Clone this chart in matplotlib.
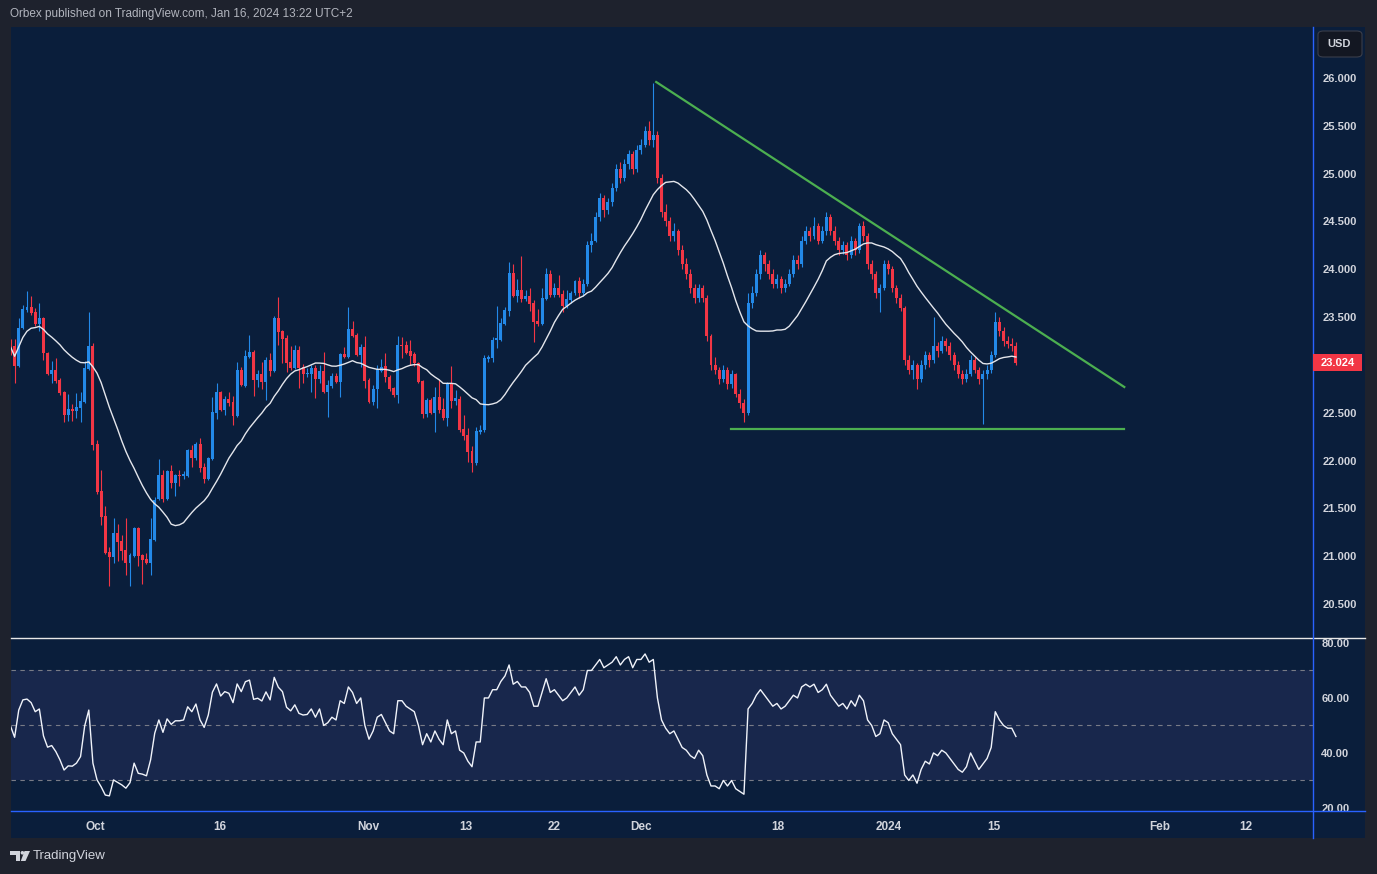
import numpy as np
import pandas as pd
import matplotlib
matplotlib.use("Agg")
import matplotlib.pyplot as plt
from matplotlib.patches import Rectangle, FancyBboxPatch, Polygon, Circle
from matplotlib.lines import Line2D
from matplotlib.transforms import blended_transform_factory, Affine2D

plt.rcParams['font.family'] = ['Liberation Sans', 'DejaVu Sans']

# 8h bars, silver (XAG/USD), late Sep 2023 -> Jan 16 2024
opens = [
    23.24, 23.20, 22.99, 23.39, 23.57, 23.61, 23.55, 23.43, 23.49, 23.12,
    22.90, 22.95, 22.84, 22.72, 22.48, 22.54, 22.52, 22.55, 22.61, 22.96,
    23.20, 22.17, 21.68, 21.42, 21.04, 20.99, 21.24, 21.16, 21.06, 20.93,
    21.00, 21.29, 21.01, 20.97, 20.93, 21.17, 21.60, 21.85, 21.60, 21.89,
    21.77, 21.85, 21.84, 21.84, 22.11, 22.03, 22.17, 21.93, 21.81, 22.02,
    22.50, 22.72, 22.53, 22.64, 22.61, 22.47, 22.95, 22.78, 23.08, 23.14,
    22.84, 22.91, 22.82, 23.05, 22.94, 23.49, 23.35, 23.28, 23.03, 22.97,
    23.16, 22.98, 22.90, 22.90, 22.97, 22.85, 22.94, 22.72, 22.78, 22.88,
    22.82, 23.11, 23.08, 23.38, 23.31, 23.10, 23.19, 22.84, 22.61, 22.75,
    22.94, 22.99, 22.87, 22.76, 22.69, 23.21, 23.21, 23.15, 23.11, 23.02,
    22.83, 22.49, 22.63, 22.50, 22.66, 22.54, 22.44, 22.81, 22.62, 22.64,
    22.33, 22.27, 22.10, 21.97, 22.30, 22.32, 23.06, 23.07, 23.26, 23.26,
    23.43, 23.56, 23.96, 23.72, 23.78, 23.69, 23.72, 23.65, 23.46, 23.43,
    23.69, 23.95, 23.73, 23.80, 23.74, 23.62, 23.68, 23.75,
    23.88, 23.75, 23.85, 24.25, 24.30, 24.55, 24.75, 24.62, 24.70, 24.85,
    25.05, 24.95, 25.10, 25.20, 25.05, 25.25, 25.30, 25.45, 25.35, 25.40,
    24.95, 24.60, 24.50, 24.35, 24.40, 24.20, 24.05, 23.95, 23.80, 23.70,
    23.80, 23.70, 23.30, 23.00, 22.95, 22.85, 22.95, 22.80, 22.90, 22.70,
    22.60, 22.50, 23.65, 23.75, 23.95, 24.15, 24.05, 23.95, 23.85, 23.90,
    23.80, 23.85, 23.95, 24.10, 24.05, 24.30, 24.40, 24.35, 24.45, 24.30,
    24.40, 24.55, 24.40, 24.30, 24.20, 24.25, 24.15, 24.30, 24.20, 24.45,
    24.35, 24.05, 23.95, 23.75, 23.80, 24.05, 24.00, 23.80, 23.70, 23.60,
    23.05, 22.95, 23.00, 22.85, 23.00, 23.10, 23.05, 23.20, 23.15, 23.25,
    23.20, 23.10, 23.00, 22.90, 22.85, 22.90, 23.05, 22.95, 22.85, 22.90,
    22.95, 23.10, 23.45, 23.35, 23.25, 23.22, 23.20,
]
highs = [
    23.27, 23.27, 23.49, 23.63, 23.77, 23.72, 23.59, 23.65, 23.50, 23.13,
    23.04, 23.07, 22.86, 22.73, 22.70, 22.59, 22.71, 22.72, 23.04, 23.55,
    23.23, 22.21, 21.90, 21.52, 21.10, 21.40, 21.34, 21.22, 21.40, 21.03,
    21.30, 21.30, 21.02, 21.03, 21.40, 21.62, 22.02, 21.90, 21.90, 21.95,
    21.86, 21.90, 21.89, 22.12, 22.16, 22.19, 22.24, 21.97, 22.04, 22.66,
    22.81, 22.73, 22.68, 22.72, 22.68, 23.03, 22.98, 23.16, 23.31, 23.16,
    22.95, 23.03, 23.08, 23.12, 23.51, 23.71, 23.37, 23.31, 23.20, 23.21,
    23.20, 23.01, 22.97, 23.00, 23.00, 23.00, 23.14, 22.84, 22.92, 22.92,
    23.12, 23.19, 23.61, 23.46, 23.33, 23.22, 23.30, 22.86, 22.79, 23.00,
    23.06, 23.12, 22.89, 22.77, 23.30, 23.29, 23.25, 23.26, 23.13, 23.03,
    22.84, 22.65, 22.65, 22.77, 22.84, 22.65, 22.82, 22.99, 22.74, 22.68,
    22.48, 22.34, 22.15, 22.35, 22.37, 23.10, 23.10, 23.29, 23.62, 23.49,
    23.61, 24.08, 24.06, 23.90, 24.14, 23.78, 23.80, 23.68, 23.58, 23.80,
    24.01, 23.99, 23.86, 23.94, 23.78, 23.78, 23.77, 23.89,
    23.92, 23.90, 24.30, 24.38, 24.60, 24.80, 24.78, 24.75, 24.90, 25.10,
    25.12, 25.15, 25.25, 25.24, 25.30, 25.36, 25.50, 25.55, 25.95, 25.45,
    25.00, 24.68, 24.55, 24.48, 24.42, 24.25, 24.12, 24.00, 23.85, 23.85,
    23.84, 23.73, 23.32, 23.08, 22.98, 23.00, 22.98, 22.95, 22.92, 22.75,
    22.64, 23.75, 23.82, 24.00, 24.20, 24.18, 24.10, 24.00, 23.95, 23.93,
    23.90, 24.00, 24.15, 24.15, 24.35, 24.45, 24.44, 24.55, 24.48, 24.45,
    24.60, 24.58, 24.45, 24.34, 24.30, 24.28, 24.35, 24.33, 24.48, 24.50,
    24.38, 24.10, 23.98, 23.85, 24.10, 24.10, 24.03, 23.84, 23.74, 23.62,
    23.10, 23.05, 23.02, 23.05, 23.15, 23.14, 23.50, 23.24, 23.30, 23.28,
    23.24, 23.14, 23.04, 22.95, 22.96, 23.10, 23.08, 22.98, 22.95, 23.00,
    23.15, 23.55, 23.50, 23.40, 23.30, 23.28, 23.24,
]
lows = [
    23.10, 22.81, 22.98, 23.38, 23.55, 23.52, 23.41, 23.35, 23.05, 22.89,
    22.81, 22.81, 22.69, 22.40, 22.41, 22.41, 22.44, 22.40, 22.60, 22.95,
    22.11, 21.65, 21.33, 21.02, 20.69, 20.93, 20.95, 20.96, 20.80, 20.69,
    20.99, 20.90, 20.71, 20.92, 20.80, 21.16, 21.59, 21.57, 21.59, 21.71,
    21.63, 21.73, 21.81, 21.83, 21.93, 22.01, 21.88, 21.77, 21.80, 22.01,
    22.43, 22.52, 22.48, 22.57, 22.37, 22.46, 22.78, 22.77, 23.07, 22.68,
    22.77, 22.75, 22.63, 22.88, 22.93, 23.21, 23.02, 22.93, 22.95, 22.96,
    22.76, 22.81, 22.87, 22.72, 22.65, 22.81, 22.71, 22.46, 22.76, 22.81,
    22.66, 23.07, 23.07, 23.29, 23.09, 22.98, 22.76, 22.60, 22.58, 22.55,
    22.93, 22.82, 22.73, 22.66, 22.60, 23.07, 23.11, 23.00, 22.99, 22.81,
    22.44, 22.46, 22.49, 22.30, 22.50, 22.42, 22.36, 22.55, 22.58, 22.30,
    22.21, 21.98, 21.88, 21.95, 22.28, 22.30, 23.03, 23.03, 23.18, 23.25,
    23.42, 23.51, 23.71, 23.66, 23.66, 23.67, 23.56, 23.24, 23.41, 23.42,
    23.68, 23.71, 23.71, 23.71, 23.55, 23.59, 23.65, 23.73,
    23.70, 23.72, 23.82, 24.18, 24.28, 24.50, 24.55, 24.58, 24.66, 24.82,
    24.90, 24.92, 25.05, 25.00, 25.02, 25.20, 25.28, 25.30, 25.28, 24.90,
    24.55, 24.45, 24.30, 24.30, 24.15, 24.00, 23.90, 23.75, 23.65, 23.66,
    23.66, 23.25, 22.95, 22.90, 22.80, 22.82, 22.75, 22.76, 22.66, 22.55,
    22.40, 22.48, 23.60, 23.72, 23.90, 23.98, 23.90, 23.80, 23.80, 23.75,
    23.76, 23.82, 23.92, 24.00, 24.02, 24.26, 24.30, 24.32, 24.26, 24.27,
    24.36, 24.36, 24.25, 24.15, 24.16, 24.10, 24.12, 24.15, 24.17, 24.30,
    24.00, 23.90, 23.70, 23.55, 23.78, 23.95, 23.76, 23.65, 23.56, 23.00,
    22.90, 22.85, 22.75, 22.82, 22.96, 22.98, 23.02, 23.08, 23.12, 23.15,
    23.05, 22.95, 22.86, 22.80, 22.82, 22.88, 22.92, 22.80, 22.38, 22.85,
    22.92, 23.08, 23.30, 23.20, 23.18, 23.15, 23.00,
]
closes = [
    23.19, 22.99, 23.39, 23.58, 23.61, 23.54, 23.43, 23.49, 23.12, 22.90,
    22.95, 22.83, 22.71, 22.48, 22.54, 22.52, 22.56, 22.62, 22.97, 23.20,
    22.16, 21.67, 21.41, 21.03, 20.99, 21.24, 21.15, 21.05, 20.93, 21.01,
    21.29, 21.00, 20.96, 20.93, 21.18, 21.59, 21.85, 21.60, 21.89, 21.77,
    21.85, 21.84, 21.86, 22.11, 22.03, 22.17, 21.92, 21.81, 22.03, 22.51,
    22.72, 22.53, 22.64, 22.60, 22.47, 22.95, 22.79, 23.09, 23.14, 22.84,
    22.91, 22.82, 23.05, 22.94, 23.49, 23.34, 23.27, 23.02, 22.97, 23.16,
    22.97, 22.90, 22.92, 22.97, 22.85, 22.94, 22.72, 22.79, 22.88, 22.82,
    23.11, 23.08, 23.38, 23.30, 23.10, 23.19, 22.83, 22.61, 22.75, 22.96,
    22.98, 22.87, 22.75, 22.69, 23.21, 23.20, 23.12, 23.09, 23.02, 22.82,
    22.49, 22.63, 22.50, 22.66, 22.53, 22.44, 22.81, 22.62, 22.65, 22.32,
    22.26, 22.09, 21.97, 22.31, 22.32, 23.07, 23.08, 23.26, 23.28, 23.44,
    23.57, 23.96, 23.72, 23.78, 23.69, 23.72, 23.64, 23.45, 23.43, 23.70,
    23.95, 23.73, 23.80, 23.73, 23.62, 23.69, 23.75, 23.88,
    23.75, 23.85, 24.25, 24.30, 24.55, 24.75, 24.62, 24.70, 24.85, 25.05,
    24.95, 25.10, 25.20, 25.05, 25.25, 25.30, 25.45, 25.35, 25.40, 24.95,
    24.60, 24.50, 24.35, 24.40, 24.20, 24.05, 23.95, 23.80, 23.70, 23.80,
    23.70, 23.30, 23.00, 22.95, 22.85, 22.95, 22.80, 22.90, 22.70, 22.60,
    22.50, 23.65, 23.75, 23.95, 24.15, 24.05, 23.95, 23.85, 23.90, 23.80,
    23.85, 23.95, 24.10, 24.05, 24.30, 24.40, 24.35, 24.45, 24.30, 24.40,
    24.55, 24.40, 24.30, 24.20, 24.25, 24.15, 24.30, 24.20, 24.45, 24.35,
    24.05, 23.95, 23.75, 23.80, 24.05, 24.00, 23.80, 23.70, 23.60, 23.05,
    22.95, 23.00, 22.85, 23.00, 23.10, 23.05, 23.20, 23.15, 23.25, 23.20,
    23.10, 23.00, 22.90, 22.85, 22.90, 23.05, 22.95, 22.85, 22.90, 22.95,
    23.10, 23.45, 23.35, 23.25, 23.22, 23.20, 23.024,
]
rsi = [
    49.8, 45.7, 55.6, 59.3, 59.6, 58.3, 55.0, 56.0, 46.2, 42.1,
    42.7, 40.5, 37.5, 33.8, 35.3, 35.2, 36.3, 38.7, 49.8, 55.6,
    36.3, 30.2, 27.7, 24.7, 24.4, 30.2, 29.3, 28.4, 27.2, 29.2,
    36.3, 32.6, 32.3, 31.7, 37.5, 47.2, 52.0, 47.5, 52.4, 50.4,
    51.7, 51.7, 52.0, 56.8, 55.0, 57.8, 52.0, 49.3, 53.8, 62.1,
    65.1, 60.7, 62.3, 61.7, 58.3, 65.1, 62.3, 65.9, 66.5, 59.5,
    59.9, 58.9, 62.2, 59.3, 67.5, 63.9, 62.3, 56.6, 55.3, 57.5,
    54.4, 53.8, 54, 56, 53, 56, 50, 51, 53, 52,
    59, 58, 64, 62, 58, 60, 50, 45, 48, 53,
    54, 51, 48, 47, 59, 59, 57, 56, 55, 50,
    43, 47, 44, 48, 45, 43, 52, 47, 48, 41,
    40, 37, 35, 44, 44, 60, 60, 63, 63, 66,
    68, 72, 65, 66, 64, 64, 62, 57, 57, 62,
    67, 62, 63, 61, 59, 60, 62, 64, 61, 63,
    70, 70, 72, 74, 71, 72, 73, 75, 72, 74,
    75, 71, 74, 74, 76, 73, 74, 60, 52, 49,
    47, 48, 45, 42, 41, 39, 38, 41, 39, 32,
    28, 28, 27, 30, 28, 30, 27, 26, 25, 56,
    58, 61, 63, 61, 59, 57, 58, 56, 57, 59,
    61, 60, 64, 65, 64, 65, 62, 63, 65, 61,
    59, 57, 58, 56, 59, 57, 61, 59, 52, 50,
    46, 47, 52, 51, 47, 45, 43, 32, 30, 32,
    29, 34, 37, 36, 40, 39, 41, 40, 38, 36,
    34, 33, 35, 40, 37, 34, 36, 38, 42, 55,
    52, 50, 49, 49, 46,
]

# time axis labels, placed at bar index
date_ticks = [20.5, 50.8, 86.8, 110.6, 131.9, 153.0, 186.3, 213.2, 238.7, 279.0, 299.9]
date_labels = ['Oct', '16', 'Nov', '13', '22', 'Dec', '18', '2024', '15', 'Feb', '12']
# 23.000 sits under the last-price tag, so it is not labelled
price_ticks = [20.5, 21.0, 21.5, 22.0, 22.5, 23.5, 24.0, 24.5, 25.0, 25.5, 26.0]
rsi_ticks = [20, 40, 60, 80]
rsi_levels = [30, 50, 70]

# drawn trendlines (bar index, price)
res_x, res_y = [156.7, 270.3], [25.958, 22.769]
sup_x, sup_y = [174.9, 270.3], [22.33, 22.33]
ma_len = 20

W, H = 1377, 874
BG = '#0a1e3b'
FRAME = '#1e222d'
UP = '#2389e8'
DN = '#f23645'
TXT = '#d1d4dc'
GREEN = '#4caf50'
BLUE = '#2962ff'


def fx(px):
    return px / W


def fy(py):
    return 1 - py / H


fig = plt.figure(figsize=(W / 100, H / 100), dpi=100)
fig.patch.set_facecolor(FRAME)
fig.add_artist(Rectangle((fx(11), fy(838)), fx(1365) - fx(11), fy(27) - fy(838),
                         transform=fig.transFigure, facecolor=BG, edgecolor='none', zorder=-5))

ax = fig.add_axes([fx(11), fy(637), fx(1313) - fx(11), fy(27) - fy(637)])
ax2 = fig.add_axes([fx(11), fy(811), fx(1313) - fx(11), fy(638) - fy(811)])
xlim = (0.12, 316.1)

o, h, l, c = map(np.array, (opens, highs, lows, closes))
idx = np.arange(len(c))
cols = np.where(c >= o, UP, DN)

ax.vlines(idx, l, h, colors=cols, lw=0.8, zorder=2)
ax.bar(idx, np.maximum(np.abs(c - o), 0.012), bottom=np.minimum(o, c), width=0.72,
       color=cols, linewidth=0, zorder=3)
ma = pd.Series(c).rolling(ma_len, min_periods=1).mean()
ax.plot(idx, ma, color='#e4e6ec', lw=1.0, zorder=4)
ax.plot(res_x, res_y, color=GREEN, lw=1.6, zorder=5)
ax.plot(sup_x, sup_y, color=GREEN, lw=1.6, zorder=5)

ax.set_xlim(*xlim)
ax.set_ylim(20.155, 26.533)
ax.set_facecolor('none')
for s in ax.spines.values():
    s.set_visible(False)
ax.yaxis.tick_right()
ax.set_yticks(price_ticks)
ax.set_yticklabels([f'{v:.3f}' for v in price_ticks], fontweight='bold')
ax.tick_params(axis='y', length=0, pad=7, labelsize=8, labelcolor=TXT)
ax.tick_params(axis='x', length=0, labelbottom=False)

# RSI pane
ax2.axhspan(30, 70, color='#18274c', lw=0, zorder=0)
for lv in rsi_levels:
    ax2.axhline(lv, color='#787b86', lw=0.8, ls=(0, (4, 4)), zorder=1)
ax2.plot(idx, rsi, color='#f0f3fa', lw=1.0, zorder=3)
ax2.set_xlim(*xlim)
ax2.set_ylim(18.9, 81.8)
ax2.set_facecolor('none')
for s in ax2.spines.values():
    s.set_visible(False)
ax2.yaxis.tick_right()
ax2.set_yticks(rsi_ticks)
ax2.set_yticklabels([f'{v:.2f}' for v in rsi_ticks], fontweight='bold')
ax2.tick_params(axis='y', length=0, pad=6, labelsize=8, labelcolor=TXT)
ax2.set_xticks(date_ticks)
ax2.set_xticklabels(date_labels, fontweight='bold')
ax2.tick_params(axis='x', length=0, pad=7, labelsize=8.5, labelcolor=TXT)

# frame lines
fig.add_artist(Line2D([fx(11), fx(1365)], [fy(637.5)] * 2, transform=fig.transFigure, color='#e8e8e8', lw=1))
fig.add_artist(Line2D([fx(11), fx(1365)], [fy(811)] * 2, transform=fig.transFigure, color=BLUE, lw=1))
fig.add_artist(Line2D([fx(1313)] * 2, [fy(27), fy(838)], transform=fig.transFigure, color=BLUE, lw=1))

# last price tag
tr = blended_transform_factory(fig.transFigure, ax.transData)
fig.add_artist(Rectangle((fx(1313), c[-1] - 0.089), fx(1362) - fx(1313), 0.178,
                         transform=tr, facecolor=DN, edgecolor='none', zorder=6))
fig.text(fx(1338), c[-1], f'{c[-1]:.3f}', transform=tr, ha='center', va='center',
         color='white', fontsize=8, fontweight='bold', zorder=7)

# currency button
fig.add_artist(FancyBboxPatch((fx(1318), fy(57)), fx(1362) - fx(1318), fy(31) - fy(57),
                              boxstyle='round,pad=0,rounding_size=0.004', transform=fig.transFigure,
                              facecolor='#131722', edgecolor='#3a3e4a', lw=0.8, zorder=6))
fig.text(fx(1339), fy(44), 'USD', ha='center', va='center', fontsize=8, fontweight='bold',
         color=TXT, zorder=7)

fig.text(fx(10), fy(14), 'Orbex published on TradingView.com, Jan 16, 2024 13:22 UTC+2',
         ha='left', va='center', fontsize=8.5, color='#b2b5be')

# TradingView logo
px = Affine2D().scale(1 / W, -1 / H).translate(0, 1) + fig.transFigure
fig.add_artist(Polygon([(10, 851), (19.5, 851), (19.5, 861), (15.5, 861), (15.5, 854.5), (10, 854.5)],
                       closed=True, transform=px, facecolor=TXT, edgecolor='none'))
fig.add_artist(Circle((22.4, 852.8), 1.8, transform=px, facecolor=TXT, edgecolor='none'))
fig.add_artist(Polygon([(24.5, 851), (30, 851), (25.5, 861), (20.8, 861)],
                       closed=True, transform=px, facecolor=TXT, edgecolor='none'))
fig.text(fx(33), fy(856.5), 'TradingView', ha='left', va='center', fontsize=9.5, color=TXT)

fig.savefig('out.png', dpi=100, facecolor=fig.get_facecolor())
